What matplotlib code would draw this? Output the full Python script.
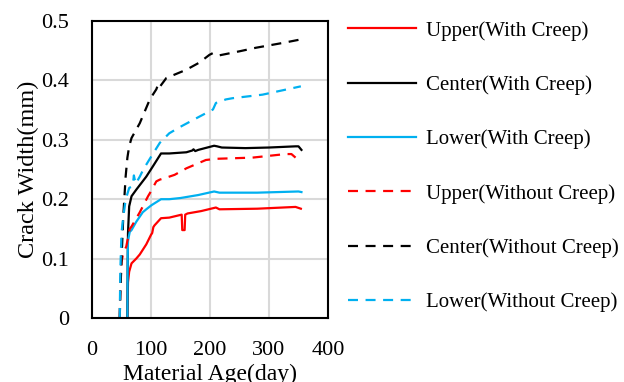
import matplotlib
matplotlib.use("Agg")
import matplotlib.pyplot as plt

plt.rcParams['font.family'] = ['Liberation Serif', 'DejaVu Serif']

# ---------------- data ----------------
upper_wc_x = [60, 61, 63, 67, 75, 81, 92, 100, 102, 104, 106, 117, 131, 152, 153, 157, 158, 162, 185, 210, 216, 280, 345, 354]
upper_wc_y = [0, 0.06, 0.078, 0.092, 0.100, 0.107, 0.124, 0.140, 0.143, 0.153, 0.156, 0.168, 0.169, 0.174, 0.148, 0.148, 0.174, 0.176, 0.180, 0.186, 0.183, 0.184, 0.187, 0.184]

center_wc_x = [60, 60.5, 61, 63, 67, 75, 92, 103, 117, 131, 160, 170, 172, 175, 180, 207, 212, 220, 260, 300, 345, 350, 355]
center_wc_y = [0, 0.09, 0.143, 0.188, 0.205, 0.216, 0.238, 0.255, 0.277, 0.277, 0.279, 0.282, 0.284, 0.281, 0.283, 0.290, 0.289, 0.287, 0.286, 0.287, 0.289, 0.289, 0.283]

lower_wc_x = [60, 60.5, 61, 64, 67, 75, 86, 92, 101, 117, 131, 150, 180, 207, 216, 280, 350, 355]
lower_wc_y = [0, 0.10, 0.13, 0.145, 0.148, 0.162, 0.178, 0.183, 0.190, 0.200, 0.200, 0.202, 0.207, 0.213, 0.211, 0.211, 0.213, 0.212]

upper_nc_x = [47, 48, 50, 53, 58, 64, 67, 81, 95, 98, 109, 115, 131, 140, 160, 193, 210, 272, 328, 338, 345]
upper_nc_y = [0, 0.05, 0.094, 0.11, 0.12, 0.15, 0.154, 0.178, 0.205, 0.21, 0.23, 0.233, 0.238, 0.241, 0.252, 0.266, 0.268, 0.27, 0.276, 0.276, 0.27]

center_nc_x = [47, 48, 50, 53, 57, 60, 63, 67, 81, 98, 109, 112, 114, 126, 160, 182, 199, 205, 215, 250, 278, 323, 354]
center_nc_y = [0, 0.04, 0.098, 0.171, 0.238, 0.27, 0.289, 0.303, 0.328, 0.368, 0.385, 0.393, 0.388, 0.404, 0.418, 0.43, 0.443, 0.446, 0.442, 0.449, 0.455, 0.463, 0.469]

lower_nc_x = [47, 48, 50, 53, 57, 63, 69, 71, 72, 74, 81, 87, 98, 115, 131, 150, 182, 205, 210, 227, 238, 289, 354]
lower_nc_y = [0, 0.08, 0.143, 0.17, 0.199, 0.219, 0.222, 0.24, 0.235, 0.226, 0.238, 0.25, 0.268, 0.295, 0.311, 0.322, 0.339, 0.351, 0.362, 0.368, 0.37, 0.376, 0.39]

labels = ["Upper(With Creep)", "Center(With Creep)", "Lower(With Creep)",
          "Upper(Without Creep)", "Center(Without Creep)", "Lower(Without Creep)"]

x_ticks = [0, 100, 200, 300, 400]
y_ticks = [0, 0.1, 0.2, 0.3, 0.4, 0.5]
y_tick_labels = ["0", "0.1", "0.2", "0.3", "0.4", "0.5"]

# ---------------- plot ----------------
RED = "#FF0000"
BLACK = "#000000"
BLUE = "#00B0F0"

fig = plt.figure(figsize=(6.24, 3.82), dpi=100)
ax = fig.add_axes([92/624, 1-318/382, (328-92)/624, (318-21)/382])

lw = 1.6
dash = (4.5, 3.4)
series = [
    (upper_wc_x, upper_wc_y, RED, '-'),
    (center_wc_x, center_wc_y, BLACK, '-'),
    (lower_wc_x, lower_wc_y, BLUE, '-'),
    (upper_nc_x, upper_nc_y, RED, '--'),
    (center_nc_x, center_nc_y, BLACK, '--'),
    (lower_nc_x, lower_nc_y, BLUE, '--'),
]
handles = []
for (xs, ys, c, ls), lab in zip(series, labels):
    if ls == '--':
        h, = ax.plot(xs, ys, color=c, lw=lw, dashes=dash, label=lab, dash_capstyle='butt')
    else:
        h, = ax.plot(xs, ys, color=c, lw=lw, label=lab)
    handles.append(h)

ax.set_xlim(0, 400)
ax.set_ylim(0, 0.5)
ax.set_xticks(x_ticks)
ax.set_yticks(y_ticks)
ax.set_yticklabels(y_tick_labels)
ax.tick_params(length=0, labelsize=16, pad=16.5)
ax.grid(True, color="#D9D9D9", lw=1.5)
ax.set_axisbelow(True)
for s in ax.spines.values():
    s.set_linewidth(1.5)
    s.set_color("black")

ax.set_xlabel("Material Age(day)", fontsize=17, labelpad=2.5)
ax.set_ylabel("Crack Width(mm)", fontsize=17.5, labelpad=1.5)

leg = fig.legend(handles=handles, labels=labels, loc="upper left",
                 bbox_to_anchor=(348/624, 1-21/382), frameon=False, fontsize=15,
                 handlelength=3.25, handletextpad=0.48, labelspacing=1.66,
                 borderaxespad=0, borderpad=0)

fig.savefig("out.png", dpi=100)
